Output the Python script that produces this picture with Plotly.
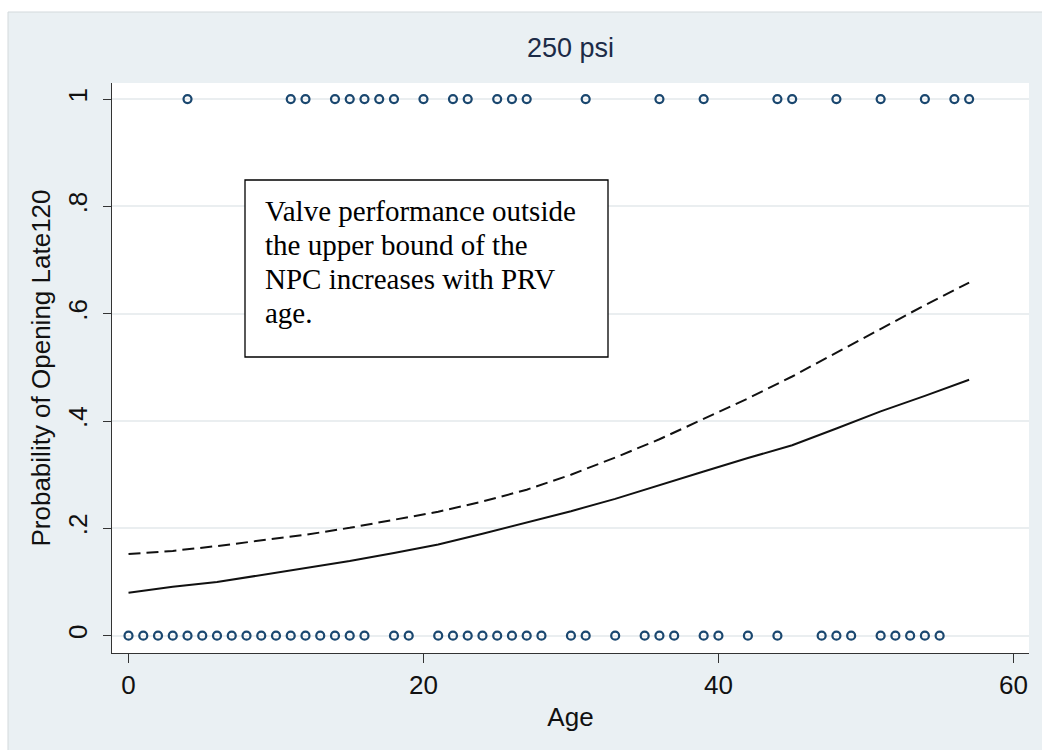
import plotly.graph_objects as go

# ---- data ----
ages_opened_late = [4, 11, 12, 14, 15, 16, 17, 18, 20, 22, 23, 25, 26, 27, 31, 36,
                    39, 44, 45, 48, 51, 54, 56, 57]
ages_not_late = [0, 1, 2, 3, 4, 5, 6, 7, 8, 9, 10, 11, 12, 13, 14, 15, 16, 18, 19,
                 21, 22, 23, 24, 25, 26, 27, 28, 30, 31, 33, 35, 36, 37, 39, 40, 42,
                 44, 47, 48, 49, 51, 52, 53, 54, 55]
curve_ages = [0, 3, 6, 9, 12, 15, 18, 21, 24, 27, 30, 33, 36, 39, 42, 45, 48, 51, 54, 57]
prob_fit = [0.080, 0.091, 0.100, 0.113, 0.126, 0.139, 0.154, 0.170, 0.190, 0.211,
            0.232, 0.255, 0.281, 0.306, 0.331, 0.355, 0.386, 0.418, 0.447, 0.477]
prob_upper = [0.152, 0.158, 0.167, 0.178, 0.188, 0.201, 0.216, 0.231, 0.250, 0.272,
              0.300, 0.332, 0.366, 0.404, 0.442, 0.483, 0.527, 0.571, 0.616, 0.658]
x_ticks = [0, 20, 40, 60]
y_ticks = [0, 0.2, 0.4, 0.6, 0.8, 1]
y_tick_labels = ["0", ".2", ".4", ".6", ".8", "1"]
note_lines = ["Valve performance outside", "the upper bound of the",
              "NPC increases with PRV", "age."]

marker_color = "#1a476f"
W, H = 1042, 750
ml, mr, mt, mb = 112, 13, 83, 97

fig = go.Figure()
for ages, yv in ((ages_opened_late, 1), (ages_not_late, 0)):
    fig.add_trace(go.Scatter(x=ages, y=[yv] * len(ages), mode="markers",
                             marker=dict(symbol="circle-open", size=8, color=marker_color,
                                         line=dict(width=2.2, color=marker_color)),
                             showlegend=False, hoverinfo="skip"))
fig.add_trace(go.Scatter(x=curve_ages, y=prob_upper, mode="lines",
                         line=dict(color="#111111", width=2, dash="12px,6px"),
                         showlegend=False, hoverinfo="skip"))
fig.add_trace(go.Scatter(x=curve_ages, y=prob_fit, mode="lines",
                         line=dict(color="#111111", width=2),
                         showlegend=False, hoverinfo="skip"))

pw, ph = W - ml - mr, H - mt - mb
def px_x(p):
    return (p - ml) / pw
def px_y(p):
    return 1 - (p - mt) / ph

shapes = [
    dict(type="rect", xref="paper", yref="paper", layer="below",
         x0=px_x(8), x1=px_x(W + 5), y0=px_y(H + 5), y1=px_y(12),
         fillcolor="#EAF0F3", line=dict(color="#D3D9DC", width=1)),
    dict(type="rect", xref="paper", yref="paper", layer="below",
         x0=0, x1=1, y0=0, y1=1, fillcolor="white", line=dict(width=0)),
    dict(type="rect", xref="paper", yref="paper", layer="above",
         x0=px_x(245), x1=px_x(608), y0=px_y(357), y1=px_y(180),
         fillcolor="white", line=dict(color="black", width=1.3)),
]

annotations = []
for i, t in enumerate(note_lines):
    annotations.append(dict(text=t, xref="paper", yref="paper", x=px_x(263),
                            y=px_y(211 + 34 * i), xanchor="left", yanchor="middle",
                            showarrow=False,
                            font=dict(family="Liberation Serif, Times New Roman, serif",
                                      size=29, color="black")))

fig.update_layout(
    width=W, height=H, autosize=False,
    margin=dict(l=ml, r=mr, t=mt, b=mb),
    paper_bgcolor="white", plot_bgcolor="white",
    font=dict(family="Liberation Sans, Arial, sans-serif", color="#111111"),
    title=dict(text="250 psi", x=(ml + pw / 2) / W, xanchor="center",
               y=1 - 48 / H, yanchor="middle",
               font=dict(size=27, color="#1c2b47")),
    shapes=shapes, annotations=annotations,
    xaxis=dict(range=[-1.12, 61.06], tickvals=x_ticks, ticks="outside", ticklen=9,
               tickcolor="#333333", tickwidth=1, showline=True, linecolor="#333333",
               linewidth=1, showgrid=False, zeroline=False,
               tickfont=dict(size=26, color="#111111"),
               title=dict(text="Age", font=dict(size=26, color="#111111"), standoff=8)),
    yaxis=dict(range=[-0.0323, 1.030], tickvals=y_ticks, ticktext=y_tick_labels,
               tickangle=-90, ticks="outside", ticklen=8, tickcolor="#333333",
               tickwidth=1, showline=True, linecolor="#333333", linewidth=1,
               showgrid=True, gridcolor="#EAEEF0", gridwidth=2, zeroline=False,
               tickfont=dict(size=26, color="#111111"), ticklabelstandoff=6,
               title=dict(text="Probability of Opening Late120",
                          font=dict(size=26, color="#111111"), standoff=4)),
)

fig.write_html("out.html")
